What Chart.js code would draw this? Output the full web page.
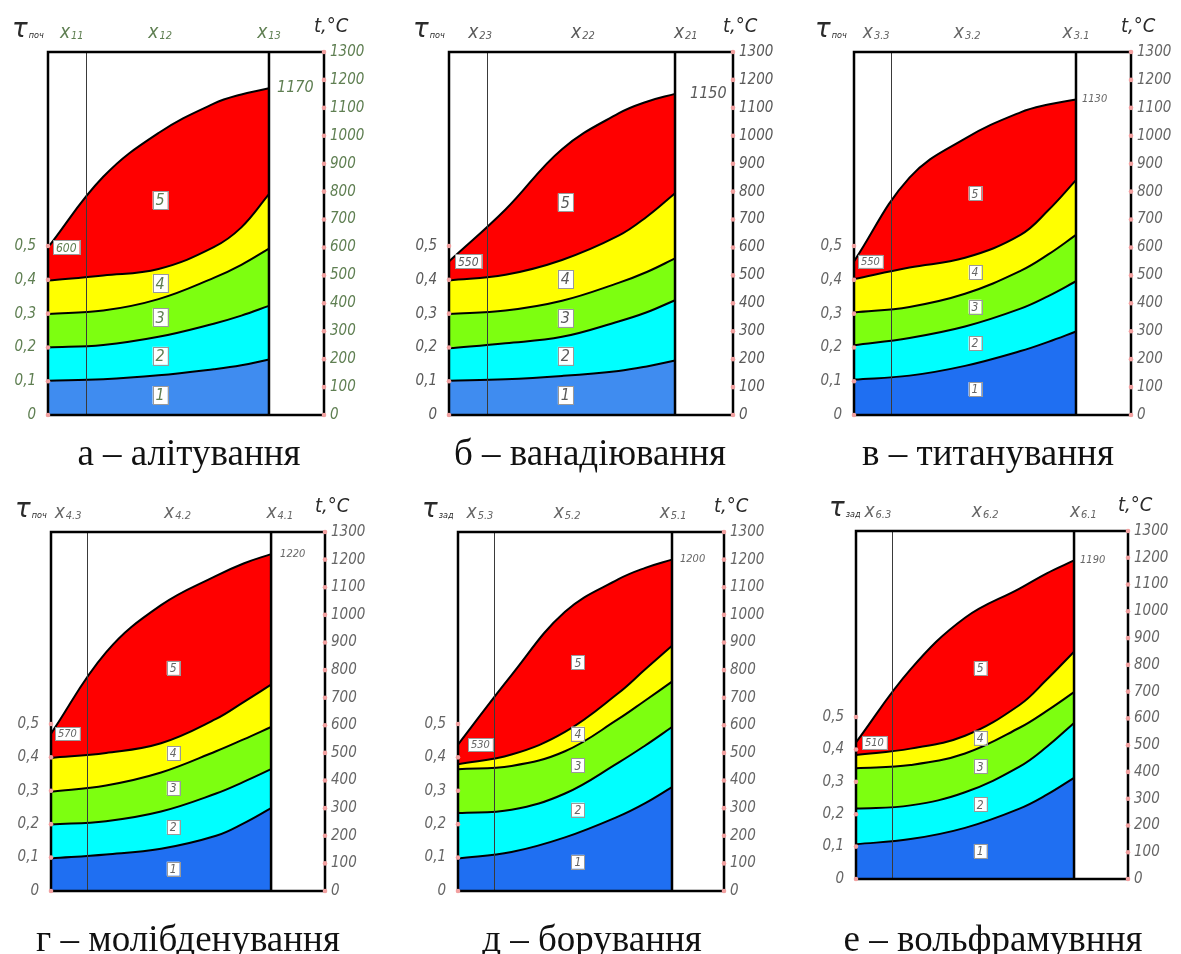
<!DOCTYPE html>
<html lang="uk">
<head>
<meta charset="utf-8">
<title>Температурні зони дифузійного насичення</title>
<script src="https://cdn.jsdelivr.net/npm/chart.js@4.4.1/dist/chart.umd.min.js"></script>
<style>
  html, body { margin: 0; padding: 0; background: #fff; }
  #page { position: relative; width: 1181px; height: 954px; overflow: hidden; background: #fff; }
  #page canvas { position: absolute; }
  .cap {
    position: absolute;
    font-family: "Liberation Serif", "Times New Roman", serif;
    font-size: 37px;
    line-height: 37px;
    white-space: nowrap;
    color: #111;
    transform: translateX(-50%);
  }
</style>
</head>
<body>
<div id="page"></div>
<script>
// ---- data -------------------------------------------------------------
// stations along the part (same for every panel)
const xStations = [0, 1, 2, 3, 3.5, 4];
// right axis, °C
const tempTicks = [0, 100, 200, 300, 400, 500, 600, 700, 800, 900, 1000, 1100, 1200, 1300];
// left axis, relative time
const tauTicks = [0, 0.1, 0.2, 0.3, 0.4, 0.5];
const zoneNumbers = ['1', '2', '3', '4', '5'];
const captions = ['а – алітування', 'б – ванадіювання', 'в – титанування',
                  'г – молібденування', 'д – борування', 'е – вольфрамувння'];
const tauNames = ['поч', 'поч', 'поч', 'поч', 'зад', 'зад'];
const xNames = [['11', '12', '13'], ['23', '22', '21'], ['3.3', '3.2', '3.1'],
                ['4.3', '4.2', '4.1'], ['5.3', '5.2', '5.1'], ['6.3', '6.2', '6.1']];

// upper boundaries of zones 1..5, °C
// а – алітування
const al1 = [123, 128, 142, 164, 178, 199];
const al2 = [242, 251, 280, 327, 356, 391];
const al3 = [362, 374, 415, 491, 538, 596];
const al4 = [482, 500, 523, 601, 672, 791];
const al5 = [600, 853, 1010, 1115, 1148, 1170];
// б – ванадіювання
const va1 = [123, 128, 140, 158, 174, 195];
const va2 = [239, 257, 280, 335, 368, 411];
const va3 = [362, 374, 409, 473, 512, 561];
const va4 = [482, 502, 555, 642, 710, 794];
const va5 = [550, 736, 952, 1080, 1122, 1150];
// в – титанування
const ti1 = [127, 141, 176, 229, 262, 299];
const ti2 = [250, 276, 317, 381, 426, 479];
const ti3 = [367, 387, 434, 516, 575, 645];
const ti4 = [487, 528, 563, 645, 733, 841];
const ti5 = [550, 850, 990, 1084, 1112, 1130];
// г – молібденування
const mo1 = [118, 132, 153, 200, 245, 300];
const mo2 = [241, 253, 288, 353, 395, 441];
const mo3 = [359, 382, 429, 506, 549, 594];
const mo4 = [482, 500, 535, 623, 684, 747];
const mo5 = [570, 864, 1035, 1141, 1186, 1220];
// д – борування
const bo1 = [118, 141, 194, 270, 318, 376];
const bo2 = [282, 294, 353, 465, 527, 594];
const bo3 = [441, 453, 506, 623, 690, 758];
const bo4 = [459, 494, 576, 717, 803, 888];
const bo5 = [530, 782, 1011, 1129, 1170, 1200];
// е – вольфрамування
const wo1 = [130, 149, 191, 263, 315, 378];
const wo2 = [263, 275, 324, 420, 494, 583];
const wo3 = [414, 426, 469, 565, 628, 698];
const wo4 = [463, 487, 535, 650, 745, 849];
const wo5 = [510, 783, 976, 1085, 1142, 1190];

const curveSets = [
  [al1, al2, al3, al4, al5],
  [va1, va2, va3, va4, va5],
  [ti1, ti2, ti3, ti4, ti5],
  [mo1, mo2, mo3, mo4, mo5],
  [bo1, bo2, bo3, bo4, bo5],
  [wo1, wo2, wo3, wo4, wo5]
];

// ---- layout & style ---------------------------------------------------
const NARROW = '"Liberation Sans Narrow", "DejaVu Sans Condensed", "Liberation Sans", sans-serif';
const TEMP_MAX = 1300;
const TAU_MAX = 0.5 * TEMP_MAX / 605;   // 0.5 on the left scale sits at about 605 °C

const layouts = [
  { cx: 0,   cy: 0,   cw: 395, ch: 436, L: 48,  T: 52,  R: 324,  B: 423, xMax: 4.996, split: 0.69, xLab: [0.43, 2.03, 4.0],  zoneX: 2.03, big: true,  ink: '#5f7f52', blue: '#3f8cf0', startDx: 5,  endDx: 8,  tauDx: -36, capX: 189, capBase: 465 },
  { cx: 400, cy: 0,   cw: 395, ch: 436, L: 449, T: 52,  R: 733,  B: 423, xMax: 5.026, split: 0.67, xLab: [0.55, 2.37, 4.19], zoneX: 2.06, big: true,  ink: '#5a5a5a', blue: '#3f8cf0', startDx: 6,  endDx: 15, tauDx: -36, capX: 590, capBase: 465 },
  { cx: 800, cy: 0,   cw: 381, ch: 436, L: 854, T: 52,  R: 1131, B: 422, xMax: 4.991, split: 0.67, xLab: [0.40, 2.04, 4.0],  zoneX: 2.18, big: false, ink: '#666666', blue: '#1f6ff2', startDx: 4,  endDx: 6,  tauDx: -39, capX: 988, capBase: 465 },
  { cx: 0,   cy: 480, cw: 395, ch: 432, L: 51,  T: 532, R: 325,  B: 900, xMax: 4.98,  split: 0.65, xLab: [0.31, 2.30, 4.16], zoneX: 2.22, big: false, ink: '#666666', blue: '#1f6ff2', startDx: 4,  endDx: 9,  tauDx: -36, capX: 188, capBase: 951 },
  { cx: 400, cy: 480, cw: 395, ch: 432, L: 458, T: 532, R: 724,  B: 900, xMax: 4.972, split: 0.67, xLab: [0.41, 2.04, 4.02], zoneX: 2.24, big: false, ink: '#666666', blue: '#1f6ff2', startDx: 10, endDx: 8,  tauDx: -36, capX: 592, capBase: 951 },
  { cx: 800, cy: 480, cw: 381, ch: 420, L: 856, T: 531, R: 1128, B: 889, xMax: 4.99,  split: 0.66, xLab: [0.40, 2.37, 4.17], zoneX: 2.28, big: false, ink: '#666666', blue: '#1f6ff2', startDx: 6,  endDx: 6,  tauDx: -27, capX: 993, capBase: 951 }
];

const zoneFill = [null, '#00ffff', '#7dff10', '#ffff00', '#ff0000'];

// white tag with a number inside
function tag(ctx, text, x, y, size, ink, centered) {
  ctx.font = `italic ${size}px ${NARROW}`;
  const w = ctx.measureText(text).width + 6;
  const h = size + 2;
  const left = centered ? x - w / 2 : x;
  ctx.fillStyle = '#fff';
  ctx.fillRect(left, y - h / 2, w, h);
  ctx.strokeStyle = '#9a9a9a';
  ctx.lineWidth = 1;
  ctx.strokeRect(Math.round(left) + 0.5, Math.round(y - h / 2) + 0.5, Math.round(w), Math.round(h));
  ctx.fillStyle = ink;
  ctx.textAlign = 'left';
  ctx.textBaseline = 'middle';
  ctx.fillText(text, left + 3, y + 1);
}

// width of a letter followed by its subscript
function subWidth(ctx, main, sub, size, subSize, font) {
  ctx.font = `italic ${size}px ${font}`;
  const w1 = ctx.measureText(main).width;
  ctx.font = `italic ${subSize}px ${NARROW}`;
  return w1 + 1 + ctx.measureText(sub).width;
}

function drawSub(ctx, main, sub, x0, base, size, subSize, color, font) {
  ctx.fillStyle = color;
  ctx.textAlign = 'left';
  ctx.textBaseline = 'alphabetic';
  ctx.font = `italic ${size}px ${font}`;
  const w1 = ctx.measureText(main).width;
  ctx.fillText(main, x0, base);
  ctx.font = `italic ${subSize}px ${NARROW}`;
  ctx.fillText(sub, x0 + w1 + 1, base + 1);
}

const decor = {
  id: 'decor',
  afterDatasetsDraw(chart, _args, o) {
    const { ctx, chartArea: a } = chart;
    const sx = chart.scales.x, sy = chart.scales.y, st = chart.scales.tau;
    const sets = chart.data.datasets;
    const metas = sets.map((_, i) => chart.getDatasetMeta(i));
    ctx.save();

    // thin divider between the first two zones along the part
    const xs = Math.round(sx.getPixelForValue(o.split)) + 0.5;
    ctx.strokeStyle = '#3a3a3a';
    ctx.lineWidth = 1;
    ctx.beginPath(); ctx.moveTo(xs, a.top); ctx.lineTo(xs, a.bottom); ctx.stroke();

    // end of the part and the frame
    const xe = sx.getPixelForValue(xStations[xStations.length - 1]);
    ctx.strokeStyle = '#000';
    ctx.lineWidth = 2.5;
    ctx.beginPath(); ctx.moveTo(xe, a.top); ctx.lineTo(xe, a.bottom); ctx.stroke();
    ctx.strokeRect(a.left, a.top, a.right - a.left, a.bottom - a.top);

    // zone numbers, centred inside each band
    const zx = sx.getPixelForValue(o.zoneX);
    metas.forEach((m, i) => {
      const top = m.dataset.interpolate({ x: zx }, 'x');
      const botY = i === 0 ? a.bottom : metas[i - 1].dataset.interpolate({ x: zx }, 'x').y;
      tag(ctx, sets[i].label, zx, (top.y + botY) / 2, o.big ? 16 : 12, o.ink, true);
    });

    // temperatures at both ends of the upper boundary
    const upper = sets[sets.length - 1].data;
    const t0 = upper[0].y, t1 = upper[upper.length - 1].y;
    tag(ctx, String(t0), a.left + o.startDx, sy.getPixelForValue(t0), o.big ? 12 : 11, o.ink, false);
    ctx.font = `italic ${o.big ? 16 : 11}px ${NARROW}`;
    ctx.fillStyle = o.ink;
    ctx.textAlign = 'left';
    ctx.textBaseline = 'middle';
    ctx.fillText(String(t1), xe + o.endDx, sy.getPixelForValue(t1));

    // tick dots on both vertical axes
    ctx.fillStyle = '#f2a0a0';
    sy.ticks.forEach(t => {
      ctx.beginPath(); ctx.arc(a.right, sy.getPixelForValue(t.value), 2.3, 0, Math.PI * 2); ctx.fill();
    });
    st.ticks.forEach(t => {
      ctx.beginPath(); ctx.arc(a.left, st.getPixelForValue(t.value), 2.3, 0, Math.PI * 2); ctx.fill();
    });

    // zone names above the frame
    o.xNames.forEach((s, i) => {
      const cx = sx.getPixelForValue(o.xLab[i]);
      const w = subWidth(ctx, 'x', s, 19, 11, NARROW);
      drawSub(ctx, 'x', s, cx - w / 2, a.top - 14, 19, 11, o.ink, NARROW);
    });

    // axis titles
    drawSub(ctx, 'τ', o.tauName, a.left + o.tauDx, a.top - 15, 26, 9, '#2a2a2a', '"DejaVu Sans", sans-serif');
    ctx.font = `italic 20px ${NARROW}`;
    ctx.fillStyle = '#2a2a2a';
    ctx.textAlign = 'left';
    ctx.textBaseline = 'alphabetic';
    ctx.fillText('t,°C', a.right - 10, a.top - 20);

    ctx.restore();
  }
};

const page = document.getElementById('page');

layouts.forEach((p, k) => {
  const cv = document.createElement('canvas');
  cv.width = p.cw; cv.height = p.ch;
  cv.style.left = p.cx + 'px'; cv.style.top = p.cy + 'px';
  cv.style.width = p.cw + 'px'; cv.style.height = p.ch + 'px';
  page.appendChild(cv);

  const cap = document.createElement('div');
  cap.className = 'cap';
  cap.textContent = captions[k];
  cap.style.left = p.capX + 'px';
  cap.style.top = (p.capBase - 31) + 'px';
  page.appendChild(cap);

  const datasets = curveSets[k].map((vals, i) => ({
    label: zoneNumbers[i],
    data: xStations.map((x, j) => ({ x, y: vals[j] })),
    xAxisID: 'x',
    yAxisID: 'y',
    borderColor: '#000',
    borderWidth: 2,
    backgroundColor: i === 0 ? p.blue : zoneFill[i],
    fill: i === 0 ? 'origin' : '-1',
    pointRadius: 0,
    tension: 0.4
  }));

  const tickFont = { family: NARROW, size: 15, style: 'italic' };

  new Chart(cv, {
    type: 'line',
    data: { datasets },
    options: {
      responsive: false,
      animation: false,
      devicePixelRatio: 1,
      events: [],
      layout: { padding: { top: p.T - p.cy, bottom: p.cy + p.ch - p.B, left: 0, right: 0 } },
      plugins: {
        legend: { display: false },
        tooltip: { enabled: false },
        decor: { ...p, xNames: xNames[k], tauName: tauNames[k] }
      },
      scales: {
        x: { type: 'linear', display: false, min: 0, max: p.xMax },
        y: {
          type: 'linear', position: 'right', min: 0, max: TEMP_MAX,
          afterBuildTicks: s => { s.ticks = tempTicks.map(v => ({ value: v })); },
          ticks: { autoSkip: false, padding: 6, color: p.ink, font: tickFont, callback: v => String(v) },
          grid: { display: false, drawTicks: false },
          border: { display: false },
          afterFit: s => { s.width = p.cx + p.cw - p.R; }
        },
        tau: {
          type: 'linear', axis: 'y', position: 'left', min: 0, max: TAU_MAX,
          afterBuildTicks: s => { s.ticks = tauTicks.map(v => ({ value: v })); },
          ticks: {
            autoSkip: false, padding: 12, color: p.ink, font: tickFont,
            callback: v => (v === 0 ? '0' : v.toFixed(1).replace('.', ','))
          },
          grid: { display: false, drawTicks: false },
          border: { display: false },
          afterFit: s => { s.width = p.L - p.cx; }
        }
      }
    },
    plugins: [decor]
  });
});
</script>
</body>
</html>
